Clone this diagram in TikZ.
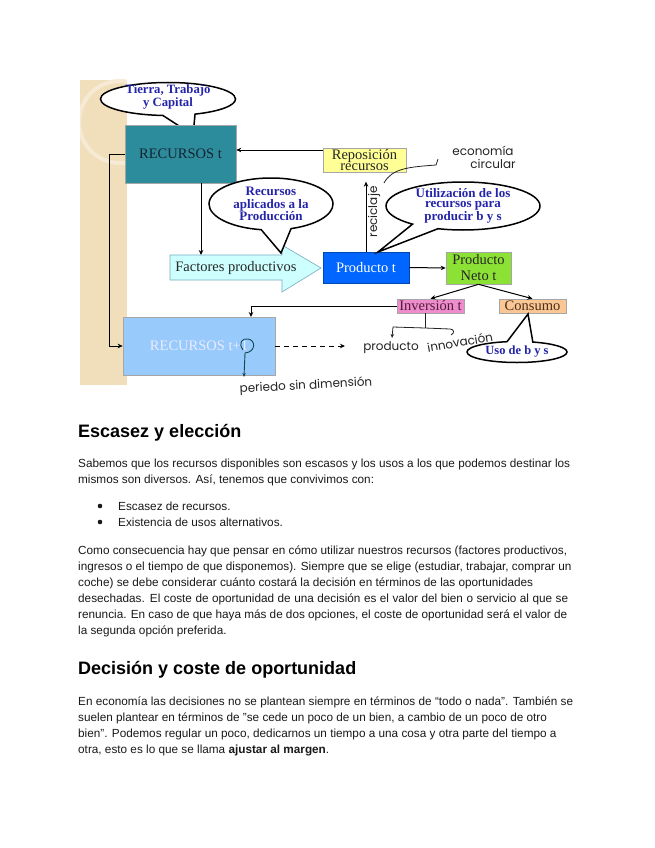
\documentclass[tikz,border=0pt]{standalone}
\usepackage{fontspec}
\setmainfont{Liberation Sans}
\newfontfamily\seriff{Liberation Serif}
\newfontfamily\handf{Poppins}
\usetikzlibrary{shapes.callouts,arrows.meta}
\definecolor{beige}{RGB}{241,223,187}
\definecolor{ringc}{RGB}{246,234,212}
\definecolor{tealc}{RGB}{45,140,156}
\definecolor{repc}{RGB}{255,255,150}
\definecolor{blueb}{RGB}{0,102,255}
\definecolor{greenc}{RGB}{140,226,52}
\definecolor{pinkc}{RGB}{238,140,205}
\definecolor{orangec}{RGB}{250,198,148}
\definecolor{lblue}{RGB}{152,202,252}
\definecolor{factc}{RGB}{206,255,255}
\definecolor{factb}{RGB}{120,170,190}
\definecolor{navy}{RGB}{36,36,170}
\definecolor{handgray}{RGB}{35,35,35}
\definecolor{loopc}{RGB}{20,70,85}
\definecolor{bodytext}{RGB}{25,25,25}
\newcommand{\fitline}[2]{\hbox to #1pt{#2}}
\begin{document}
\begin{tikzpicture}[x=1pt,y=-1pt,
  box/.style={draw=gray!70, line width=0.6pt, inner sep=0pt, align=center,
    font=\seriff\fontsize{14.5}{14.5}\selectfont},
  arr/.style={draw=black, line width=1pt, -{Stealth[length=5pt,width=4.5pt]}},
  callbub/.style={ellipse callout, draw=black, line width=1.5pt, fill=white, inner sep=0pt, callout pointer arc=28},
  ctext/.style={text=navy, align=center, inner sep=0pt},
  hand/.style={text=handgray, inner sep=0pt, font=\handf\fontsize{12}{12}\selectfont},
  hline/.style={draw=handgray, line width=0.8pt},
  body/.style={anchor=base west, inner sep=0pt, text=bodytext, font=\fontsize{11.76}{14}\selectfont},
  head/.style={anchor=base west, inner sep=0pt, text=black, font=\bfseries\fontsize{18}{20}\selectfont}
]
\useasboundingbox (0,0) rectangle (655,848);
\fill[white] (0,0) rectangle (655,848);

% beige strip with ring
\fill[beige] (80,80) rectangle (127,385);
\begin{scope}
  \clip (80,80) rectangle (127,385);
  \draw[ringc, line width=4pt] (120,122) circle (41);
\end{scope}

% callout Tierra
\node[callbub, minimum width=135pt, minimum height=33pt, callout absolute pointer={(193,135)}] (c1) at (168,99) {};
\node[ctext, font=\seriff\bfseries\fontsize{12.7}{9.5}\selectfont] (c1t) at (168,97) {Tierra, Trabajo\\y Capital};

% boxes
\node[box, fill=tealc, text={rgb,255:red,20;green,35;blue,50}, minimum width=111pt, minimum height=58pt] (rt) at (180.5,154) {RECURSOS t};
\node[box, fill=repc, text=black!85, minimum width=83pt, minimum height=24pt, font=\seriff\fontsize{14.5}{11.5}\selectfont] (rep) at (364.5,160) {Reposición\\recursos};
\node[box, fill=blueb, draw=blueb!70!black, text=white, minimum width=86pt, minimum height=31pt] (pt) at (366,267.5) {Producto t};
\node[box, fill=greenc, text=black!85, minimum width=65pt, minimum height=32pt, font=\seriff\fontsize{14.5}{16}\selectfont] (pn) at (478.5,268) {Producto\\Neto t};
\node[box, fill=pinkc, text={rgb,255:red,80;green,30;blue,55}, minimum width=67pt, minimum height=14pt] (inv) at (430.5,306) {Inversión t};
\node[box, fill=orangec, text={rgb,255:red,75;green,45;blue,25}, minimum width=67pt, minimum height=14pt] (con) at (532.5,306) {Consumo};
\node[box, fill=lblue, text=white!92!blue, minimum width=152pt, minimum height=58pt] (rt1) at (199,346) {RECURSOS t+1};

% factores productivos arrow shape
\draw[fill=factc, draw=factb, line width=0.6pt] (170,255) -- (282,255) -- (282,245) -- (321,268) -- (282,292) -- (282,280) -- (170,280) -- cycle;
\node[inner sep=0pt, font=\seriff\fontsize{14.5}{14.5}\selectfont, text=black!85] (fact) at (236,268) {Factores productivos};
\coordinate (facttop) at (201,255);

% callout Recursos aplicados
\node[callbub, minimum width=124pt, minimum height=52pt, callout absolute pointer={(281,253)}] (c2) at (271,204) {};
\node[ctext, font=\seriff\bfseries\fontsize{13}{12.5}\selectfont] (c2t) at (271,204) {Recursos\\aplicados a la\\Producción};

% callout Utilizacion
\node[callbub, minimum width=154pt, minimum height=48pt, callout absolute pointer={(378,252)}, callout pointer arc=22] (c3) at (463,206) {};
\node[ctext, font=\seriff\bfseries\fontsize{13}{10.5}\selectfont] (c3t) at (463,206) {Utilización de los\\recursos para\\producir b y s};

% connectors
\draw[arr] ([yshift=10pt]rep.west) coordinate (rw) -- (rw -| rt.east);
\draw[arr] (rt.south -| facttop) -- (facttop);
\draw[arr] (rt.west) -- ++(-15,0) |- (rt1.west);
\draw[arr] (pt.east) -- (pn.west);
\draw[arr] (pt.north) -- ++(0,-70) coordinate (recy);
\draw[arr] (pn.south) -- (inv.north);
\draw[arr] (pn.south) -- (con.north);
\coordinate (rt1in) at (251,317);
\draw[arr] (inv.west) -| (rt1in);
\coordinate (dend) at (345,346);
\draw[arr, dash pattern=on 5pt off 4pt] (rt1.east) -- (dend);

% handwritten annotations
\node[hand, rotate=90] (recic) at (374,212) {reciclaje};
\node[hand] (eco1) at (483,151) {economía};
\node[hand] (eco2) at (493,164) {circular};
\draw[hline] (384,183) .. controls (392,168) and (410,167) .. (436,165) -- (438,159);
\node[hand] (prod) at (391,348) {producto};
\node[hand, rotate=10] (innov) at (460,342) {innovación};
\draw[hline] (inv.south -| 425,0) -- (425,328);
\draw[hline, -{Stealth[length=4pt,width=3.5pt]}] (425,328) -- (393,327) -- (392,338);
\draw[hline] (425,328) -- (450,329) .. controls (454,329) and (455,333) .. (451,335);
\draw[loopc, line width=0.9pt, -{Stealth[length=4pt,width=3.5pt]}] (243,350) .. controls (238,343) and (242,338) .. (248,339) .. controls (256,340) and (256,352) .. (245,353) -- (244,377);
\node[hand, rotate=3] (period) at (306,386) {periedo sin dimensión};

% callout Uso
\node[callbub, minimum width=100pt, minimum height=21pt, callout absolute pointer={(528,314)}, callout pointer arc=30] (c4) at (517,352) {};
\node[ctext, font=\seriff\bfseries\fontsize{12.5}{12.5}\selectfont] (c4t) at (517,352) {Uso de b y s};

% page text
\node[head] (h1) at (78,437) {Escasez y elección};
\node[body] (p1a) at (78,467) {\fitline{492}{Sabemos que los recursos disponibles son escasos y los usos a los que podemos destinar los}};
\node[body] (p1b) at (78,483) {mismos son diversos. Así, tenemos que convivimos con:};
\fill[bodytext] (100,506) circle (2.3);
\node[body] (b1) at (118,510) {Escasez de recursos.};
\fill[bodytext] (100,522) circle (2.3);
\node[body] (b2) at (118,526) {Existencia de usos alternativos.};
\node[body] (p2a) at (78,554) {Como consecuencia hay que pensar en cómo utilizar nuestros recursos (factores productivos,};
\node[body] (p2b) at (78,570) {ingresos o el tiempo de que disponemos). Siempre que se elige (estudiar, trabajar, comprar un};
\node[body] (p2c) at (78,586) {coche) se debe considerar cuánto costará la decisión en términos de las oportunidades};
\node[body] (p2d) at (78,602) {\fitline{490}{desechadas. El coste de oportunidad de una decisión es el valor del bien o servicio al que se}};
\node[body] (p2e) at (78,618) {\fitline{489}{renuncia. En caso de que haya más de dos opciones, el coste de oportunidad será el valor de}};
\node[body] (p2f) at (78,634) {la segunda opción preferida.};
\node[head] (h2) at (78,674) {Decisión y coste de oportunidad};
\node[body] (p3a) at (78,705) {\fitline{495}{En economía las decisiones no se plantean siempre en términos de “todo o nada". También se}};
\node[body] (p3b) at (78,721) {suelen plantear en términos de "se cede un poco de un bien, a cambio de un poco de otro};
\node[body] (p3c) at (78,737) {bien". Podemos regular un poco, dedicarnos un tiempo a una cosa y otra parte del tiempo a};
\node[body] (p3d) at (78,753) {otra, esto es lo que se llama \textbf{ajustar al margen}.};
\end{tikzpicture}
\end{document}
